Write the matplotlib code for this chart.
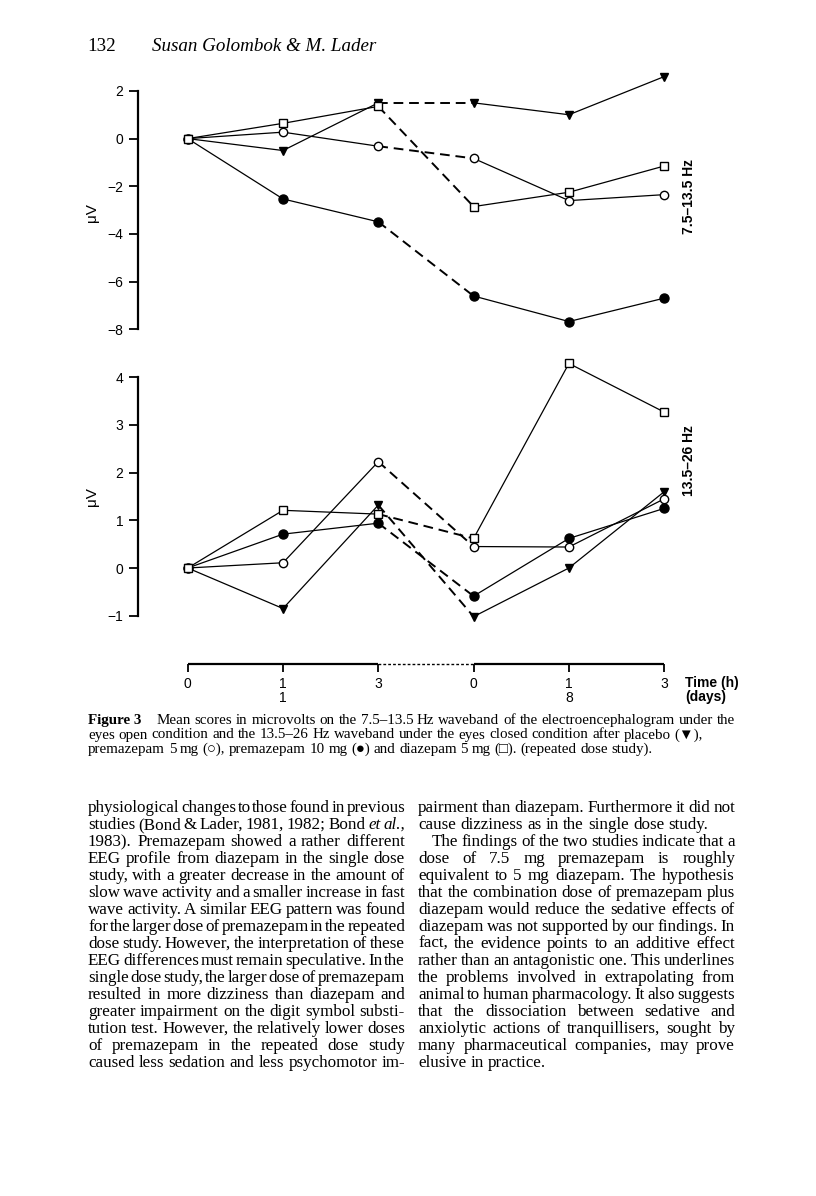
import matplotlib
matplotlib.use('Agg')
import matplotlib.pyplot as plt
import numpy as np

plt.rcParams['font.family'] = ['Liberation Sans', 'DejaVu Sans']
SERIF = ['Liberation Serif', 'DejaVu Sans']

# --- data ---------------------------------------------------------------
time_pos = [0, 1, 2, 3, 4, 5]
hour_labels = ['0', '1', '3', '0', '1', '3']
day_labels = ['', '1', '', '', '8', '']

# 7.5-13.5 Hz waveband, eyes open (microvolts)
alpha_placebo = [0, -0.5, 1.5, 1.5, 1.0, 2.6]
alpha_prem5 = [0, 0.27, -0.32, -0.83, -2.6, -2.35]
alpha_prem10 = [0, -2.53, -3.49, -6.6, -7.67, -6.69]
alpha_diaz = [0, 0.64, 1.35, -2.85, -2.25, -1.15]

# 13.5-26 Hz waveband, eyes closed (microvolts)
beta_placebo = [0, -0.85, 1.32, -1.02, 0.0, 1.6]
beta_prem5 = [0, 0.11, 2.23, 0.45, 0.44, 1.45]
beta_prem10 = [0, 0.71, 0.94, -0.59, 0.62, 1.25]
beta_diaz = [0, 1.21, 1.13, 0.62, 4.29, 3.27]

alpha_ticks = [-8, -6, -4, -2, 0, 2]
beta_ticks = [-1, 0, 1, 2, 3, 4]

header_page = '132'
header_authors = 'Susan Golombok & M. Lader'

caption_lines = [
    'Mean scores in microvolts on the 7.5\u201313.5  Hz waveband of the electroencephalogram under the',
    'eyes open condition and the 13.5\u201326 Hz waveband under the eyes closed condition after placebo (\u25bc),',
    'premazepam 5 mg (\u25cb), premazepam 10 mg (\u25cf) and  diazepam 5 mg (\u25a1). (repeated dose study).',
]

left_col = [
    'physiological changes to those found in previous',
    'studies (Bond & Lader, 1981, 1982; Bond *et *al.,',
    '1983). Premazepam showed a rather different',
    'EEG profile from diazepam in the single dose',
    'study, with a greater decrease in the amount of',
    'slow wave activity and a smaller increase in fast',
    'wave activity. A similar EEG pattern was found',
    'for the larger dose of premazepam in the repeated',
    'dose study. However, the interpretation of these',
    'EEG differences must remain speculative. In the',
    'single dose study, the larger dose of premazepam',
    'resulted in more dizziness than diazepam and',
    'greater impairment on the digit symbol substi-',
    'tution test. However, the relatively lower doses',
    'of premazepam in the repeated dose study',
    'caused less sedation and less psychomotor im-',
]
right_col = [
    'pairment than diazepam. Furthermore it did not',
    'cause dizziness as in the single dose study.',
    'The findings of the two studies indicate that a',
    'dose of 7.5 mg premazepam is roughly',
    'equivalent to 5 mg diazepam. The hypothesis',
    'that the combination dose of premazepam plus',
    'diazepam would reduce the sedative effects of',
    'diazepam was not supported by our findings. In',
    'fact, the evidence points to an additive effect',
    'rather than an antagonistic one. This underlines',
    'the problems involved in extrapolating from',
    'animal to human pharmacology. It also suggests',
    'that the dissociation between sedative and',
    'anxiolytic actions of tranquillisers, sought by',
    'many pharmaceutical companies, may prove',
    'elusive in practice.',
]
right_ragged = {1, 15}
right_indent = {2}

# --- figure -------------------------------------------------------------
W, H = 816, 1196
fig = plt.figure(figsize=(W / 100, H / 100), dpi=100)


def px_axes(left, top, right, bottom):
    return fig.add_axes([left / W, 1 - bottom / H, (right - left) / W, (bottom - top) / H])


X0, DX = 187.7, 95.3          # pixel of first time point, spacing
AX_L, AX_R = 138, 680
xlim = ((AX_L - X0) / DX, (AX_R - X0) / DX)


def draw_series(ax, y, marker, face, ms):
    ax.plot(time_pos[:3], y[:3], color='k', lw=0.9)
    ax.plot(time_pos[3:], y[3:], color='k', lw=0.9)
    ax.plot(time_pos[2:4], y[2:4], color='k', lw=1.4, dashes=(5, 3))
    ax.plot(time_pos, y, ls='none', marker=marker, mfc=face, mec='k',
            ms=ms, mew=1.0, zorder=3, clip_on=False)


def style_axes(ax, ticks):
    ax.set_facecolor('none')
    for s in ['top', 'right', 'bottom']:
        ax.spines[s].set_visible(False)
    ax.spines['left'].set_bounds(ticks[0], ticks[-1])
    ax.spines['left'].set_linewidth(1.6)
    ax.set_xticks([])
    ax.set_yticks(ticks)
    ax.tick_params(axis='y', direction='out', length=6.5, width=1.3,
                   labelsize=10, pad=4)
    ax.set_xlim(*xlim)


# top panel: 0 at y=138.6 px, 23.85 px per uV
ax1 = px_axes(AX_L, 60, AX_R, 340)
ax1.set_ylim((138.6 - 340) / 23.85, (138.6 - 60) / 23.85)
draw_series(ax1, alpha_placebo, 'v', 'k', 6)
draw_series(ax1, alpha_prem5, 'o', 'white', 6)
draw_series(ax1, alpha_prem10, 'o', 'k', 6.5)
draw_series(ax1, alpha_diaz, 's', 'white', 5.5)
style_axes(ax1, alpha_ticks)

# bottom panel: 0 at y=568 px, 47.68 px per uV
ax2 = px_axes(AX_L, 350, AX_R, 630)
ax2.set_ylim((568 - 630) / 47.68, (568 - 350) / 47.68)
draw_series(ax2, beta_placebo, 'v', 'k', 6)
draw_series(ax2, beta_prem5, 'o', 'white', 6)
draw_series(ax2, beta_prem10, 'o', 'k', 6.5)
draw_series(ax2, beta_diaz, 's', 'white', 5.5)
style_axes(ax2, beta_ticks)

# time axis
ax3 = px_axes(AX_L, 640, AX_R, 664)
ax3.set_facecolor('none')
ax3.set_xlim(*xlim)
ax3.set_ylim(0, 1)
for s in ax3.spines.values():
    s.set_visible(False)
ax3.plot(time_pos[:3], [0] * 3, color='k', lw=1.6, clip_on=False, solid_capstyle='butt')
ax3.plot(time_pos[3:], [0] * 3, color='k', lw=1.6, clip_on=False, solid_capstyle='butt')
ax3.plot(time_pos[2:4], [0, 0], color='k', lw=1.0, ls=(0, (2, 1.5)), clip_on=False)
ax3.set_yticks([])
ax3.set_xticks(time_pos)
ax3.set_xticklabels([h if d == '' else h + '\n' + d for h, d in zip(hour_labels, day_labels)])
ax3.tick_params(axis='x', direction='out', length=6, width=1.3, labelsize=10, pad=3)
for lab in ax3.get_xticklabels():
    lab.set_linespacing(1.05)

# overlay in pixel coordinates for page text
ov = fig.add_axes([0, 0, 1, 1])
ov.set_xlim(0, W)
ov.set_ylim(H, 0)
ov.axis('off')

ov.text(685, 683, 'Time (h)', fontsize=10, weight='bold', va='center', ha='left')
ov.text(685, 697, '(days)', fontsize=10, weight='bold', va='center', ha='left')
ov.text(689, 196, '7.5\u201313.5 Hz', fontsize=10, weight='bold', rotation=90,
        ha='center', va='center')
ov.text(689, 461, '13.5\u201326 Hz', fontsize=10, weight='bold', rotation=90,
        ha='center', va='center')
ov.text(92, 213, '\u03bcV', fontsize=11, rotation=90, ha='center', va='center')
ov.text(92, 497, '\u03bcV', fontsize=11, rotation=90, ha='center', va='center')

renderer = fig.canvas.get_renderer()


def text_width(txt, size, weight='normal', style='normal'):
    t = ov.text(0, 0, txt, fontsize=size, family=SERIF, weight=weight, style=style)
    w = t.get_window_extent(renderer).width
    t.remove()
    return w


def space_width(size):
    return text_width('a a', size) - text_width('aa', size)


def tokens_of(line):
    out = []
    for w in line.split(' '):
        if w == '':
            continue
        if w.startswith('*'):
            out.append((w[1:], 'italic'))
        else:
            out.append((w, 'normal'))
    return out


def natural_width(line, size):
    toks = tokens_of(line)
    return sum(text_width(t, size, style=s) for t, s in toks) + space_width(size) * (len(toks) - 1)


def draw_line(line, x0, x1, y, size, justify, weight='normal'):
    toks = tokens_of(line)
    widths = [text_width(t, size, weight, s) for t, s in toks]
    if justify and len(toks) > 1:
        gap = (x1 - x0 - sum(widths)) / (len(toks) - 1)
    else:
        gap = space_width(size)
    x = x0
    for (t, s), w in zip(toks, widths):
        ov.text(x, y, t, fontsize=size, family=SERIF, style=s, weight=weight,
                va='baseline', ha='left')
        x += w + gap


# header
hs = 12 * 225 / text_width(header_authors, 12, style='italic')
ov.text(87, 51, header_page, fontsize=hs, family=SERIF, va='baseline')
ov.text(152, 51, header_authors, fontsize=hs, family=SERIF, style='italic', va='baseline')

# caption
fig_lab = 'Figure 3'
cap_size = 10
lab_w = text_width(fig_lab, cap_size, 'bold')
nat = lab_w + 14 + natural_width(caption_lines[0], cap_size)
cap_size = cap_size * 647 / nat
lab_w = text_width(fig_lab, cap_size, 'bold')
ov.text(88, 724, fig_lab, fontsize=cap_size, family=SERIF, weight='bold', va='baseline')
draw_line(caption_lines[0], 88 + lab_w + 14 * cap_size / 10, 735, 724, cap_size, True)
draw_line(caption_lines[1], 88, 735, 738.5, cap_size, False)
draw_line(caption_lines[2], 88, 735, 753, cap_size, False)

# body text, two justified columns
COL_W = 317
LX, RX = 88, 418
base, lead = 812, 16.98
just_lines = left_col + [l for i, l in enumerate(right_col) if i not in right_ragged | right_indent]
nats = [natural_width(l, 10) for l in just_lines]
body_size = 10 * COL_W / np.median(nats)

for i, line in enumerate(left_col):
    draw_line(line, LX, LX + COL_W, base + i * lead, body_size, True)
for i, line in enumerate(right_col):
    x0 = RX + (14 if i in right_indent else 0)
    draw_line(line, x0, RX + COL_W, base + i * lead, body_size, i not in right_ragged)

fig.savefig('out.png', dpi=100)
